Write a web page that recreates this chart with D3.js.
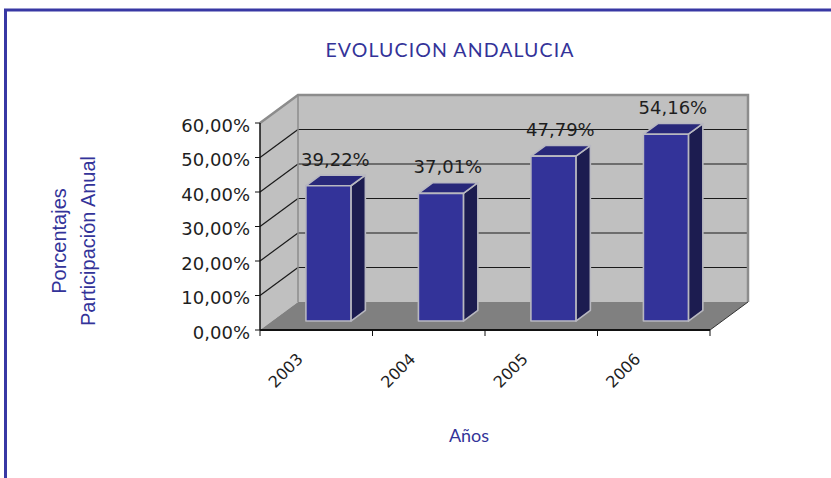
<!DOCTYPE html>
<html>
<head>
<meta charset="utf-8">
<script src="https://cdn.jsdelivr.net/npm/d3@7"></script>
<style>
  body { margin: 0; background: #fff; }
</style>
</head>
<body>
<div class="container"></div>
<script>
// chart data
var years = ["2003", "2004", "2005", "2006"];
var values = [39.22, 37.01, 47.79, 54.16];
var yTicks = [0, 10, 20, 30, 40, 50, 60];

var width = 831, height = 478;

const svg = d3.select(".container").append("svg")
  .attr("width", width)
  .attr("height", height);

// frame
svg.append("rect")
  .attr("x", 5.5).attr("y", 10)
  .attr("width", 900).attr("height", 600)
  .attr("fill", "none")
  .attr("stroke", "#3838a4")
  .attr("stroke-width", 3);

// scales (front plane of the 3d box)
var x = d3.scaleBand().domain(years).range([260, 710]).paddingInner(0).paddingOuter(0);
var y = d3.scaleLinear().domain([0, 60]).range([330, 123]);

// depth offset of the box
var DX = 38, DY = -28;
var x0 = 260, x1 = 710;

var fmt = d3.formatLocale({ decimal: ",", thousands: ".", grouping: [3], currency: ["", "€"] }).format(".2f");

// back wall
svg.append("polygon")
  .attr("points", [[x0 + DX, y(60) + DY], [x1 + DX, y(60) + DY], [x1 + DX, y(0) + DY], [x0 + DX, y(0) + DY]].join(" "))
  .attr("fill", "#c0c0c0");
// side wall
svg.append("polygon")
  .attr("points", [[x0, y(60)], [x0 + DX, y(60) + DY], [x0 + DX, y(0) + DY], [x0, y(0)]].join(" "))
  .attr("fill", "#c0c0c0");
// floor
svg.append("polygon")
  .attr("points", [[x0, y(0)], [x0 + DX, y(0) + DY], [x1 + DX, y(0) + DY], [x1, y(0)]].join(" "))
  .attr("fill", "#808080");

// grid lines on back wall and side wall
var grid = svg.append("g");
yTicks.filter(d => d > 0 && d < 60).forEach(function (v) {
  grid.append("line")
    .attr("x1", x0 + DX).attr("x2", x1 + DX)
    .attr("y1", y(v) + DY).attr("y2", y(v) + DY)
    .attr("stroke", "#1a1a1a").attr("stroke-width", 1.2);
  grid.append("line")
    .attr("x1", x0).attr("x2", x0 + DX)
    .attr("y1", y(v)).attr("y2", y(v) + DY)
    .attr("stroke", "#1a1a1a").attr("stroke-width", 1.2);
});

// wall borders
svg.append("polyline")
  .attr("points", [[x0, y(60)], [x0 + DX, y(60) + DY], [x1 + DX, y(60) + DY], [x1 + DX, y(0) + DY]].join(" "))
  .attr("fill", "none")
  .attr("stroke", "#8c8c8c")
  .attr("stroke-width", 2.5);
svg.append("line")
  .attr("x1", x0 + DX).attr("x2", x0 + DX)
  .attr("y1", y(60) + DY).attr("y2", y(0) + DY)
  .attr("stroke", "#8c8c8c").attr("stroke-width", 1.5);
svg.append("line")
  .attr("x1", x1).attr("y1", y(0))
  .attr("x2", x1 + DX).attr("y2", y(0) + DY)
  .attr("stroke", "#333").attr("stroke-width", 1);

// bars
var f0 = 0.32, f1 = 0.70, barW = 45;
var bars = svg.append("g").selectAll("g").data(values).join("g");

function pts(a) { return a.map(p => p.join(",")).join(" "); }

bars.each(function (v, i) {
  var g = d3.select(this);
  var cx = x(years[i]) + x.bandwidth() / 2;
  var lx = cx - barW / 2 + f0 * DX, rx = lx + barW;
  var top = y(v) + f0 * DY, bot = y(0) + f0 * DY;
  var ddx = (f1 - f0) * DX, ddy = (f1 - f0) * DY;
  g.append("polygon")
    .attr("points", pts([[rx, top], [rx + ddx, top + ddy], [rx + ddx, bot + ddy], [rx, bot]]))
    .attr("fill", "#1c1c50");
  g.append("polygon")
    .attr("points", pts([[lx, top], [lx + ddx, top + ddy], [rx + ddx, top + ddy], [rx, top]]))
    .attr("fill", "#28287a");
  g.append("rect")
    .attr("x", lx).attr("y", top)
    .attr("width", barW).attr("height", bot - top)
    .attr("fill", "#333399");
  g.selectAll("polygon, rect")
    .attr("stroke", "#b8b8c0").attr("stroke-width", 1.6).attr("stroke-linejoin", "round");
  g.append("text")
    .attr("x", cx + f0 * DX + 7)
    .attr("y", top - 20)
    .attr("text-anchor", "middle")
    .attr("font-family", "DejaVu Sans")
    .attr("font-size", 18)
    .attr("fill", "#1e1e1e")
    .text(fmt(v) + "%");
});

// y axis
svg.append("line")
  .attr("x1", x0).attr("x2", x0)
  .attr("y1", y(60)).attr("y2", y(0))
  .attr("stroke", "#111").attr("stroke-width", 1.5);
var yAx = svg.append("g");
yTicks.forEach(function (v) {
  yAx.append("line")
    .attr("x1", x0 - 5).attr("x2", x0)
    .attr("y1", y(v)).attr("y2", y(v))
    .attr("stroke", "#111");
  yAx.append("text")
    .attr("x", 250)
    .attr("y", y(v) + 8.5)
    .attr("text-anchor", "end")
    .attr("font-family", "DejaVu Sans")
    .attr("font-size", 18)
    .attr("fill", "#1e1e1e")
    .text(fmt(v) + "%");
});

// x axis
svg.append("line")
  .attr("x1", x0).attr("x2", x1)
  .attr("y1", y(0)).attr("y2", y(0))
  .attr("stroke", "#111").attr("stroke-width", 2);
var xTickPos = years.map(d => x(d)).concat([x1]);
xTickPos.forEach(function (p) {
  svg.append("line")
    .attr("x1", p).attr("x2", p)
    .attr("y1", y(0)).attr("y2", y(0) + 6)
    .attr("stroke", "#111");
});
years.forEach(function (d) {
  svg.append("text")
    .attr("transform", "translate(" + (x(d) + 44) + ",360) rotate(-45)")
    .attr("text-anchor", "end")
    .attr("font-family", "DejaVu Sans")
    .attr("font-size", 16)
    .attr("fill", "#1e1e1e")
    .text(d);
});

// titles
svg.append("text")
  .attr("x", 450).attr("y", 57)
  .attr("text-anchor", "middle")
  .attr("font-family", "Lato")
  .attr("font-size", 19.5)
  .attr("letter-spacing", 1.1)
  .attr("fill", "#333399")
  .text("EVOLUCION ANDALUCIA");

svg.append("text")
  .attr("x", 469).attr("y", 442)
  .attr("text-anchor", "middle")
  .attr("font-family", "Lato")
  .attr("font-size", 18)
  .attr("fill", "#333399")
  .text("Años");

var yt = svg.append("text")
  .attr("transform", "translate(0,241) rotate(-90)")
  .attr("text-anchor", "middle")
  .attr("font-family", "Liberation Sans")
  .attr("font-size", 20)
  .attr("fill", "#333399");
yt.append("tspan").attr("x", 0).attr("y", 66).text("Porcentajes");
yt.append("tspan").attr("x", 0).attr("y", 95).text("Participación Anual");
</script>
</body>
</html>
